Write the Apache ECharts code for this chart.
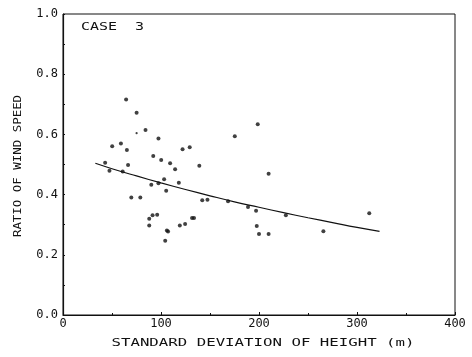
<!DOCTYPE html>
<html>
<head>
<meta charset="utf-8">
<script src="https://cdn.jsdelivr.net/npm/echarts@6/dist/echarts.min.js"></script>
<style>
  html, body { margin: 0; padding: 0; background: #fff; }
  #chart { width: 472px; height: 357px; }
</style>
</head>
<body>
<div id="chart"></div>
<script>
// Observed cases: standard deviation of terrain height (m) vs. ratio of wind speed
const sdHeight = [
  43.0, 47.4, 50.2, 59.1, 60.9, 64.4, 65.2, 66.4, 69.7, 75.1,
  78.9, 84.2, 88.0, 88.0, 90.1, 91.4, 92.1, 96.1, 97.4, 97.4,
  100.2, 103.2, 104.3, 105.3, 106.0, 107.2, 109.3, 114.4, 118.2, 119.2,
  122.0, 124.6, 129.3, 131.7, 133.7, 139.1, 142.1, 147.4, 168.4, 175.3,
  188.8, 197.0, 197.7, 198.7, 200.0, 209.8, 209.8, 227.4, 265.7, 312.5
];
const windRatio = [
  0.506, 0.479, 0.561, 0.570, 0.477, 0.716, 0.548, 0.498, 0.390, 0.672,
  0.390, 0.615, 0.320, 0.297, 0.433, 0.331, 0.528, 0.333, 0.586, 0.438,
  0.515, 0.451, 0.247, 0.413, 0.281, 0.277, 0.504, 0.484, 0.439, 0.297,
  0.551, 0.302, 0.557, 0.322, 0.322, 0.496, 0.381, 0.383, 0.378, 0.594,
  0.359, 0.346, 0.296, 0.634, 0.269, 0.469, 0.269, 0.331, 0.278, 0.338
];
// A faint, smaller plotted point
const faintSd = [75.1];
const faintRatio = [0.604];

// Fitted decay curve
const fitSd    = [33, 50, 75, 100, 125, 150, 175, 200, 225, 250, 275, 300, 323];
const fitRatio = [0.504, 0.486, 0.462, 0.439, 0.417, 0.396, 0.376, 0.358, 0.340, 0.323, 0.307, 0.291, 0.278];

const xTickLabels = ['0', '100', '200', '300', '400'];
const yTickLabels = ['0.0', '0.2', '0.4', '0.6', '0.8', '1.0'];

const caseLabel = 'CASE  3';
const xTitle = 'STANDARD DEVIATION OF HEIGHT (m)';
const yTitle = 'RATIO OF WIND SPEED';

const pairs = (xs, ys) => xs.map((x, i) => [x, ys[i]]);
const ink = '#111';
const mono = '"DejaVu Sans Mono", "Liberation Mono", monospace';

const chart = echarts.init(document.getElementById('chart'), null, { renderer: 'canvas' });
chart.setOption({
  backgroundColor: '#fff',
  animation: false,
  grid: { left: 63, right: 17, top: 14, bottom: 42, show: true, borderColor: ink, borderWidth: 1, backgroundColor: 'transparent' },
  xAxis: {
    type: 'value', min: 0, max: 400, interval: 100,
    axisLine: { show: true, lineStyle: { color: ink, width: 1.2 } },
    axisTick: { show: true, inside: true, length: 3, lineStyle: { color: ink } },
    minorTick: { show: true, splitNumber: 2, length: 2, lineStyle: { color: ink } },
    splitLine: { show: false },
    axisLabel: {
      color: ink, fontFamily: mono, fontSize: 12, margin: 3,
      formatter: v => xTickLabels[Math.round(v / 100)]
    }
  },
  yAxis: {
    type: 'value', min: 0, max: 1, interval: 0.2,
    axisLine: { show: true, lineStyle: { color: ink, width: 1.2 } },
    axisTick: { show: true, inside: true, length: 2, lineStyle: { color: ink } },
    minorTick: { show: true, splitNumber: 2, length: 2, lineStyle: { color: ink } },
    splitLine: { show: false },
    axisLabel: {
      color: ink, fontFamily: mono, fontSize: 12, margin: 5,
      formatter: v => yTickLabels[Math.round(v / 0.2)]
    }
  },
  series: [
    {
      type: 'line', data: pairs(fitSd, fitRatio), smooth: true, symbol: 'none',
      lineStyle: { color: ink, width: 1.2 }, z: 2
    },
    {
      type: 'scatter', data: pairs(sdHeight, windRatio), symbol: 'circle', symbolSize: 4,
      itemStyle: { color: ink }, z: 3
    },
    {
      type: 'scatter', data: pairs(faintSd, faintRatio), symbol: 'circle', symbolSize: 2.2,
      itemStyle: { color: ink }, z: 3
    }
  ],
  graphic: [
    {
      type: 'text', x: 81, y: 27, scaleX: 1.36,
      style: { text: caseLabel, fontFamily: mono, fontSize: 11, fill: ink, align: 'left', verticalAlign: 'middle', textAlign: 'left', textVerticalAlign: 'middle' }
    },
    {
      type: 'text', x: 263, y: 343, scaleX: 1.43,
      style: { text: xTitle, fontFamily: mono, fontSize: 11, fill: ink, align: 'center', verticalAlign: 'middle', textAlign: 'center', textVerticalAlign: 'middle' }
    },
    {
      type: 'text', x: 18, y: 166, rotation: Math.PI / 2, scaleX: 1.13,
      style: { text: yTitle, fontFamily: mono, fontSize: 11, fill: ink, align: 'center', verticalAlign: 'middle', textAlign: 'center', textVerticalAlign: 'middle' }
    }
  ]
});
</script>
</body>
</html>
